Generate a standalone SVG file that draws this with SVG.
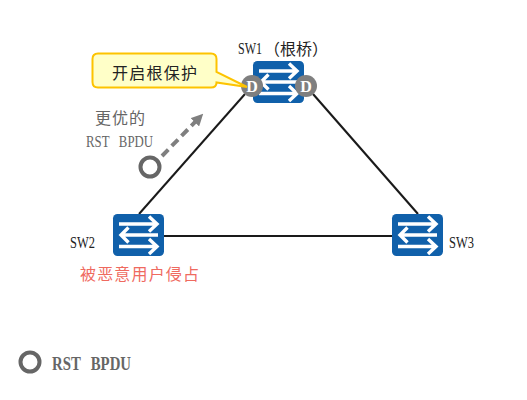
<svg xmlns="http://www.w3.org/2000/svg" width="527" height="400" viewBox="0 0 527 400">
<style>
.mono{font-family:"Liberation Serif","Noto Serif",serif;font-size:16px}
.cjk{font-family:"Noto Sans CJK SC",sans-serif;font-size:16px}
.link{stroke:#1a1a1a;stroke-width:2;fill:none}
.ring{fill:#fff;stroke:#666;stroke-width:4}
.port{fill:#7f7f7f}
.d{font-family:"Liberation Serif",serif;font-size:16px;font-weight:bold;fill:#fff;text-anchor:middle}
</style>
<defs>
<marker id="ah" viewBox="0 0 10 10" refX="5" refY="5" markerWidth="3" markerHeight="3" orient="auto" markerUnits="strokeWidth"><path d="M0 0L10 5L0 10z" fill="#7f7f7f"/></marker>
<g id="sw">
<rect width="51" height="42" rx="4.500" fill="#1060aa"/>
<g fill="none" stroke="#fff" stroke-width="3.400">
<path d="M6 10H44M36 2.500L44 10L36 17.500"/>
<path d="M45 21H8M15.500 13.500L8 21L15.500 28.500"/>
<path d="M6 32.500H44M36 25L44 32.500L36 40"/>
</g>
</g>
</defs>
<g id="connectors">
<path class="link" d="M245 94L139 214"/>
<path class="link" d="M313 94L418 214"/>
<path class="link" d="M164 236H392"/>
<path d="M162 156L199 118" fill="none" stroke="#7f7f7f" stroke-width="4" stroke-dasharray="9 5" marker-end="url(#ah)"/>
</g>
<g id="sw1">
<use href="#sw" x="253" y="61"/>
<circle class="port" cx="252" cy="86" r="11"/>
<text class="d" x="252" y="92">D</text>
<circle class="port" cx="306" cy="86" r="11"/>
<text class="d" x="306" y="92">D</text>
<text class="mono" transform="translate(238 54) scale(.75 1)" fill="#222">SW1</text>
<text x="264" y="55" font-family="Noto Sans CJK SC,sans-serif" font-size="16" fill="#222">（根桥）</text>
</g>
<g id="sw2">
<use href="#sw" x="113" y="214"/>
<text class="mono" transform="translate(70 248) scale(.78 1)" fill="#222">SW2</text>
<text class="cjk" x="80" y="280" fill="#ef6a5f" textLength="119">被恶意用户侵占</text>
</g>
<g id="sw3">
<use href="#sw" x="392" y="214"/>
<text class="mono" transform="translate(449 248) scale(.78 1)" fill="#222">SW3</text>
</g>
<g id="callout">
<path d="M98 53.500H211Q216.500 53.500 216.500 59V72L247 87L216.500 82.500Q216.500 87.500 211 87.500H98Q92.500 87.500 92.500 82V59Q92.500 53.500 98 53.500Z" fill="#ffffc8" stroke="#fdc300" stroke-width="2"/>
<text class="cjk" x="112" y="79" fill="#222" textLength="85">开启根保护</text>
</g>
<g id="bpdu">
<circle class="ring" cx="150" cy="167" r="9.500"/>
<text class="cjk" x="95" y="124" fill="#666" textLength="50">更优的</text>
<text class="mono" x="86" y="147" fill="#666" word-spacing="8" textLength="67" lengthAdjust="spacingAndGlyphs">RST BPDU</text>
</g>
<g id="legend">
<circle class="ring" cx="30" cy="362" r="9.500"/>
<text class="mono" x="52" y="370" fill="#666" font-weight="bold" style="font-size:18px" word-spacing="8" textLength="79" lengthAdjust="spacingAndGlyphs">RST BPDU</text>
</g>
</svg>
